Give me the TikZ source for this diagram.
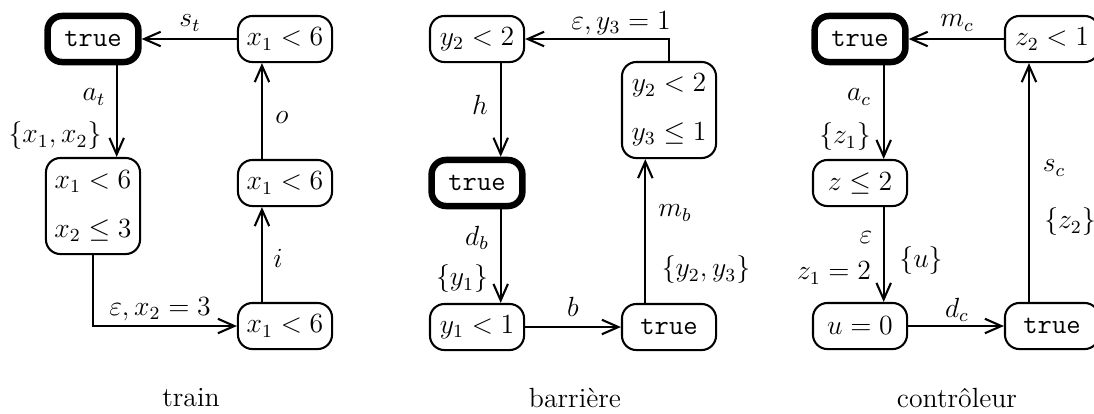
\documentclass[tikz,border=0pt]{standalone}
\usepackage{amsmath}
\usepackage{tikz}
\usetikzlibrary{arrows.meta, positioning}

\begin{document}
\begin{tikzpicture}[
    x=0.0152cm, y=-0.0152cm,
    every node/.style={font=\large},
    loc/.style={draw, rounded corners=0.22cm, line width=0.9pt, minimum width=1.43cm, minimum height=0.7cm, inner sep=1pt, align=center},
    init/.style={loc, line width=2.8pt, minimum width=1.38cm},
    tall/.style={loc, minimum height=1.46cm},
    arr/.style={-{Straight Barb[length=2.5mm,width=2.2mm]}, line width=0.9pt}
]
    \clip (0,0) rectangle (1094,413);

    % Train
    \node[init] (trainTrue) at (93,39) {\texttt{true}};
    \node[tall] (trainA) at (93,206) {$x_1 < 6$\\[7pt]$x_2 \le 3$};
    \node[loc] (trainB) at (285,39) {$x_1 < 6$};
    \node[loc] (trainD) at (285,183) {$x_1 < 6$};
    \node[loc] (trainE) at (285,326) {$x_1 < 6$};

    \draw[arr] ([xshift=0.36cm]trainTrue.south) -- ([xshift=0.36cm]trainA.north);
    \draw[arr] (trainA.south) |- (trainE.west);
    \draw[arr] ([xshift=-0.35cm]trainE.north) -- ([xshift=-0.35cm]trainD.south);
    \draw[arr] ([xshift=-0.35cm]trainD.north) -- ([xshift=-0.35cm]trainB.south);
    \draw[arr] (trainB.west) -- (trainTrue.east);

    \node (trainSt) at (190,23) {$s_t$};
    \node (trainAt) at (94,97) {$a_t$};
    \node (trainRst) at (55,136) {$\{x_1, x_2\}$};
    \node (trainO) at (282,118) {$o$};
    \node (trainI) at (278,258) {$i$};
    \node (trainEps) at (160,309) {$\varepsilon, x_2 = 3$};
    \node (trainName) at (191,398) {train};

    % Barriere
    \node[loc] (barA) at (477,39) {$y_2 < 2$};
    \node[init] (barTrue) at (477,183) {\texttt{true}};
    \node[loc] (barB) at (477,327) {$y_1 < 1$};
    \node[loc] (barC) at (669,327) {\texttt{true}};
    \node[tall] (barD) at (669,110) {$y_2 < 2$\\[7pt]$y_3 \le 1$};

    \draw[arr] ([xshift=0.36cm]barA.south) -- ([xshift=0.36cm]barTrue.north);
    \draw[arr] ([xshift=0.36cm]barTrue.south) -- ([xshift=0.36cm]barB.north);
    \draw[arr] (barB.east) -- (barC.west);
    \draw[arr] ([xshift=-0.36cm]barC.north) -- ([xshift=-0.36cm]barD.south);
    \draw[arr] (barD.north) |- (barA.east);

    \node (barEps) at (621,23) {$\varepsilon, y_3 = 1$};
    \node (barH) at (480,105) {$h$};
    \node (barDb) at (477,238) {$d_b$};
    \node (barRst) at (462,279) {$\{y_1\}$};
    \node (barBl) at (573,307) {$b$};
    \node (barMb) at (675,213) {$m_b$};
    \node (barRstB) at (706,270) {$\{y_2, y_3\}$};
    \node (barName) at (575,398) {barri\`ere};

    % Controleur
    \node[init] (ctrlTrue) at (860,39) {\texttt{true}};
    \node[loc] (ctrlA) at (860,183) {$z \le 2$};
    \node[loc] (ctrlB) at (860,326) {$u = 0$};
    \node[loc] (ctrlC) at (1052,326) {\texttt{true}};
    \node[loc] (ctrlD) at (1052,39) {$z_2 < 1$};

    \draw[arr] ([xshift=0.36cm]ctrlTrue.south) -- ([xshift=0.36cm]ctrlA.north);
    \draw[arr] ([xshift=0.36cm]ctrlA.south) -- ([xshift=0.36cm]ctrlB.north);
    \draw[arr] (ctrlB.east) -- (ctrlC.west);
    \draw[arr] ([xshift=-0.35cm]ctrlC.north) -- ([xshift=-0.35cm]ctrlD.south);
    \draw[arr] (ctrlD.west) -- (ctrlTrue.east);

    \node (ctrlMc) at (957,23) {$m_c$};
    \node (ctrlAc) at (859,97) {$a_c$};
    \node (ctrlRst) at (845,137) {$\{z_1\}$};
    \node (ctrlSc) at (1054,168) {$s_c$};
    \node (ctrlRstB) at (1070,222) {$\{z_2\}$};
    \node (ctrlEps) at (866,238) {$\varepsilon$};
    \node (ctrlGuard) at (834,273) {$z_1 = 2$};
    \node (ctrlRstU) at (921,261) {$\{u\}$};
    \node (ctrlDc) at (957,310) {$d_c$};
    \node (ctrlName) at (957,398) {contr\^oleur};
\end{tikzpicture}
\end{document}
